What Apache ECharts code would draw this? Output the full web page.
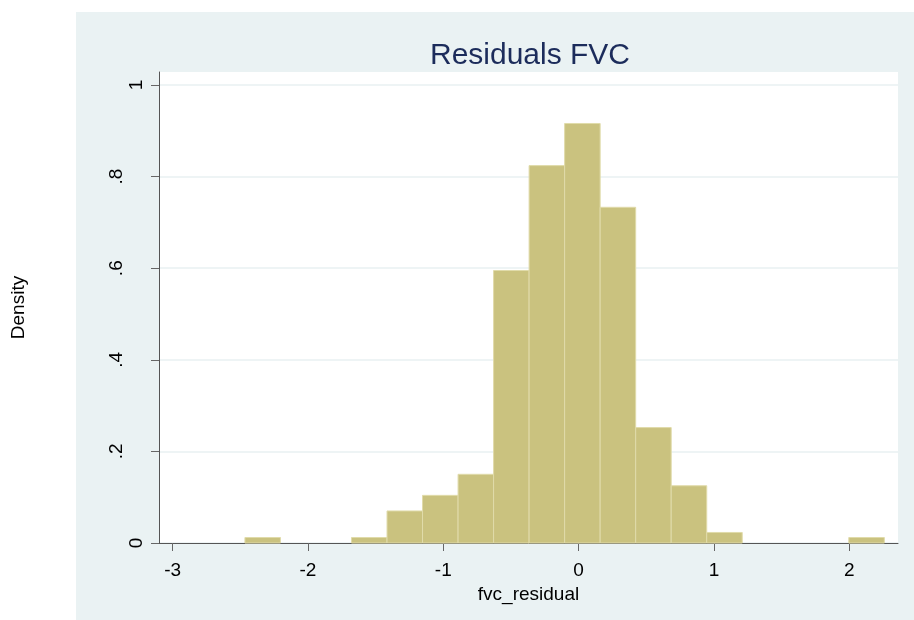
<!DOCTYPE html>
<html>
<head>
<meta charset="utf-8">
<script src="https://cdn.jsdelivr.net/npm/echarts@6/dist/echarts.min.js"></script>
<style>
  html, body { margin: 0; padding: 0; background: #fff; }
  #chart { width: 914px; height: 620px; }
</style>
</head>
<body>
<div id="chart"></div>
<script>
// histogram bins (left edge, common width) and densities
const binLeft = [-2.466, -2.2035, -1.941, -1.6785, -1.416, -1.1535, -0.891, -0.6285, -0.366,
                 -0.1035, 0.159, 0.4215, 0.684, 0.9465, 1.209, 1.4715, 1.734, 1.9965];
const binWidth = 0.2625;
const density = [0.012, 0, 0, 0.012, 0.070, 0.104, 0.150, 0.595, 0.824,
                 0.916, 0.733, 0.252, 0.125, 0.023, 0, 0, 0, 0.012];
const xTicks = [-3, -2, -1, 0, 1, 2];
const yTicks = [0, 0.2, 0.4, 0.6, 0.8, 1];
const yTickLabels = ['0', '.2', '.4', '.6', '.8', '1'];

const font = '"Liberation Sans", Arial, sans-serif';

const chart = echarts.init(document.getElementById('chart'));

const bins = binLeft.map((l, i) => [l, l + binWidth, density[i]]);

chart.setOption({
  animation: false,
  backgroundColor: '#ffffff',
  graphic: [{
    type: 'rect',
    z: -10,
    silent: true,
    shape: { x: 76, y: 12, width: 838, height: 608 },
    style: { fill: '#EAF2F3' }
  }],
  title: {
    text: 'Residuals FVC',
    left: 525,
    top: 36,
    textAlign: 'center',
    textStyle: { fontFamily: font, fontSize: 30, fontWeight: 'normal', color: '#1C2C5B' }
  },
  grid: {
    left: 159, top: 72, width: 739, height: 471,
    show: true, backgroundColor: '#ffffff', borderWidth: 0
  },
  xAxis: {
    type: 'value',
    min: -3.101,
    max: 2.36,
    name: 'fvc_residual',
    nameLocation: 'middle',
    nameGap: 34,
    nameTextStyle: { fontFamily: font, fontSize: 19, color: '#000' },
    axisLine: { show: true, onZero: false, lineStyle: { color: '#555', width: 1 } },
    axisTick: { show: true, length: 8, customValues: xTicks, lineStyle: { color: '#666' } },
    axisLabel: {
      customValues: xTicks,
      margin: 18,
      fontFamily: font, fontSize: 19, color: '#000',
      formatter: v => String(v)
    },
    splitLine: { show: false }
  },
  yAxis: {
    type: 'value',
    min: 0,
    max: 1.0284,
    name: 'Density',
    nameLocation: 'middle',
    nameRotate: 90,
    nameGap: 131,
    nameTextStyle: { fontFamily: font, fontSize: 19, color: '#000' },
    axisLine: { show: true, onZero: false, lineStyle: { color: '#555', width: 1 } },
    axisTick: { show: true, length: 8, customValues: yTicks, lineStyle: { color: '#666' } },
    axisLabel: {
      customValues: yTicks,
      rotate: 90,
      margin: 13,
      fontFamily: font, fontSize: 19, color: '#000',
      formatter: v => {
        const i = yTicks.findIndex(t => Math.abs(t - v) < 1e-6);
        const s = i >= 0 ? yTickLabels[i] : '';
        return s.charAt(0) === '.' ? '{d|' + s + '}' : '{n|' + s + '}';
      },
      rich: {
        n: { fontFamily: font, fontSize: 19, color: '#000' },
        d: { fontFamily: font, fontSize: 19, color: '#000', padding: [0, 0, 20, 0] }
      }
    },
    splitLine: { show: true, lineStyle: { color: '#E8F0F2', width: 1.5 } }
  },
  series: [{
    type: 'custom',
    data: bins,
    encode: { x: [0, 1], y: 2 },
    renderItem: (params, api) => {
      const h = api.value(2);
      if (!h) return null;
      const p0 = api.coord([api.value(0), 0]);
      const p1 = api.coord([api.value(1), h]);
      return {
        type: 'rect',
        shape: { x: p0[0], y: p1[1], width: p1[0] - p0[0], height: p0[1] - p1[1] },
        style: { fill: '#CAC27F', stroke: '#E0DBAA', lineWidth: 1 }
      };
    }
  }]
});
</script>
</body>
</html>
